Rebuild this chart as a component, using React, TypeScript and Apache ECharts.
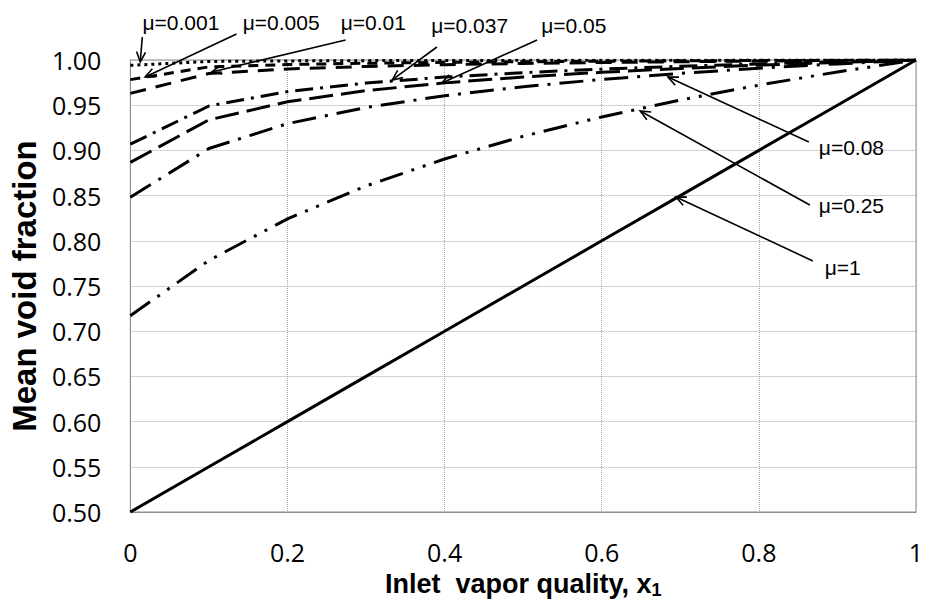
import React, { useEffect, useRef } from "react";
import * as echarts from "echarts";

// Inlet vapor quality x1
const X_QUALITY = [0, 0.1, 0.2, 0.3, 0.4, 0.5, 0.6, 0.7, 0.8, 0.9, 1.0];

// Mean void fraction for each density ratio mu
const MU_0001 = [0.9941, 0.9984, 0.999, 0.9993, 0.9995, 0.9996, 0.9997, 0.9998, 0.9999, 0.9999, 1.0];
const MU_0005 = [0.9783, 0.9924, 0.995, 0.9964, 0.9974, 0.9981, 0.9986, 0.9991, 0.9994, 0.9997, 1.0];
const MU_001 = [0.9631, 0.985, 0.9901, 0.9929, 0.9948, 0.9962, 0.9972, 0.9981, 0.9988, 0.9995, 1.0];
const MU_0037 = [0.9069, 0.9491, 0.965, 0.9745, 0.9811, 0.986, 0.9899, 0.9931, 0.9957, 0.998, 1.0];
const MU_005 = [0.8867, 0.9338, 0.9538, 0.9661, 0.9747, 0.9812, 0.9864, 0.9907, 0.9943, 0.9973, 1.0];
const MU_008 = [0.8482, 0.9021, 0.9296, 0.9475, 0.9605, 0.9705, 0.9785, 0.9852, 0.9909, 0.9957, 1.0];
const MU_025 = [0.7172, 0.7783, 0.8243, 0.8607, 0.8905, 0.9156, 0.937, 0.9557, 0.9722, 0.9868, 1.0];
const MU_1 = [0.5, 0.55, 0.6, 0.65, 0.7, 0.75, 0.8, 0.85, 0.9, 0.95, 1.0];

const SERIES_NAMES = ["μ=0.001", "μ=0.005", "μ=0.01", "μ=0.037", "μ=0.05", "μ=0.08", "μ=0.25", "μ=1"];
const SERIES_VALUES = [MU_0001, MU_0005, MU_001, MU_0037, MU_005, MU_008, MU_025, MU_1];

// Axis settings
const Y_MIN = 0.5;
const Y_MAX = 1.0;
const Y_STEP = 0.05;
const X_MIN = 0;
const X_MAX = 1;
const X_STEP = 0.2;

// Annotation labels (data coordinates)
const LABEL_TEXT = ["μ=0.001", "μ=0.005", "μ=0.01", "μ=0.037", "μ=0.05", "μ=0.08", "μ=0.25", "μ=1"];
const LABEL_POS = [
  [0.0644, 1.042],
  [0.1919, 1.042],
  [0.3093, 1.042],
  [0.4318, 1.0387],
  [0.5644, 1.0387],
  [0.8763, 0.9027],
  [0.8763, 0.8396],
  [0.8838, 0.771],
];
const ARROW_TAIL = [
  [0.0152, 1.0254],
  [0.1351, 1.0288],
  [0.274, 1.0221],
  [0.3902, 1.0144],
  [0.5177, 1.0221],
  [0.8636, 0.9093],
  [0.8649, 0.8396],
  [0.8687, 0.7777],
];
const ARROW_HEAD = [
  [0.0126, 0.9978],
  [0.0189, 0.9812],
  [0.1035, 0.9867],
  [0.3333, 0.9779],
  [0.3965, 0.9746],
  [0.6843, 0.9812],
  [0.649, 0.9436],
  [0.6944, 0.8485],
];

// styles
const DASHES: any[] = [
  [3, 4],
  [10, 7],
  [16, 10],
  [18, 7, 3, 7],
  [24, 8],
  [24, 9, 3, 9],
  [24, 9, 3, 9, 3, 9],
  "solid",
];
const LABEL_ALIGN = ["center", "center", "center", "center", "center", "left", "left", "left"];

export default function App() {
  const ref = useRef<HTMLDivElement>(null);

  useEffect(() => {
    if (!ref.current) return;
    const chart = echarts.init(ref.current, null, { renderer: "svg" });

    const series = SERIES_NAMES.map((name, i) => ({
      name,
      type: "line",
      data: X_QUALITY.map((x, j) => [x, SERIES_VALUES[i][j]]),
      showSymbol: false,
      symbol: "none",
      smooth: false,
      lineStyle: { color: "#000", width: 3, type: DASHES[i], cap: "butt" },
      z: 2 + i,
    }));

    const tickFont = { fontFamily: '"Open Sans", sans-serif', fontSize: 25, color: "#000" };

    chart.setOption({
      animation: false,
      backgroundColor: "#fff",
      grid: {
        left: 123,
        right: 11,
        top: 60,
        bottom: 96,
        show: true,
        borderColor: "#8c8c8c",
        borderWidth: 1,
        backgroundColor: "transparent",
      },
      xAxis: {
        type: "value",
        min: X_MIN,
        max: X_MAX,
        interval: X_STEP,
        axisLine: { show: true, lineStyle: { color: "#8c8c8c", width: 1 } },
        axisTick: { show: false },
        axisLabel: { ...tickFont, margin: 27 },
        splitLine: { show: true, lineStyle: { color: "#a6a6a6", type: "dotted", width: 1 } },
        name: "Inlet  vapor quality, x{sub|1}",
        nameLocation: "middle",
        nameGap: 56,
        nameTextStyle: {
          fontFamily: '"Liberation Sans", Arial, sans-serif',
          fontWeight: "bold",
          fontSize: 27,
          color: "#000",
          lineHeight: 30,
          rich: {
            sub: {
              fontFamily: '"Liberation Sans", Arial, sans-serif',
              fontWeight: "bold",
              fontSize: 18,
              lineHeight: 6,
              verticalAlign: "bottom",
              color: "#000",
            },
          },
        },
      },
      yAxis: {
        type: "value",
        min: Y_MIN,
        max: Y_MAX,
        interval: Y_STEP,
        axisLine: { show: true, lineStyle: { color: "#8c8c8c", width: 1 } },
        axisTick: { show: false },
        axisLabel: {
          ...tickFont,
          margin: 29,
          formatter: (v: number) => v.toFixed(2),
        },
        splitLine: { show: true, lineStyle: { color: "#a6a6a6", type: "dotted", width: 1 } },
        name: "Mean void fraction",
        nameLocation: "middle",
        nameGap: 80,
        nameTextStyle: {
          fontFamily: '"Liberation Sans", Arial, sans-serif',
          fontWeight: "bold",
          fontSize: 33,
          color: "#000",
        },
      },
      series,
    });

    const toPx = (p: number[]) => chart.convertToPixel({ gridIndex: 0 }, p) as number[];
    const graphics: any[] = [];
    const L = 11;
    const ang = (24 * Math.PI) / 180;
    LABEL_TEXT.forEach((text, i) => {
      const lp = toPx(LABEL_POS[i]);
      const t = toPx(ARROW_TAIL[i]);
      const h = toPx(ARROW_HEAD[i]);
      const dx = h[0] - t[0];
      const dy = h[1] - t[1];
      const len = Math.sqrt(dx * dx + dy * dy) || 1;
      const ux = dx / len;
      const uy = dy / len;
      const rot = (a: number) => [ux * Math.cos(a) - uy * Math.sin(a), ux * Math.sin(a) + uy * Math.cos(a)];
      const r1 = rot(ang);
      const r2 = rot(-ang);
      graphics.push({
        type: "line",
        z: 100,
        shape: { x1: t[0], y1: t[1], x2: h[0], y2: h[1] },
        style: { stroke: "#000", lineWidth: 1.6 },
      });
      graphics.push({
        type: "polyline",
        z: 100,
        shape: {
          points: [
            [h[0] - L * r1[0], h[1] - L * r1[1]],
            [h[0], h[1]],
            [h[0] - L * r2[0], h[1] - L * r2[1]],
          ],
        },
        style: { stroke: "#000", fill: null, lineWidth: 1.6 },
      });
      graphics.push({
        type: "text",
        z: 101,
        x: lp[0],
        y: lp[1],
        style: {
          text,
          fill: "#000",
          font: '21px "Liberation Sans", Arial, sans-serif',
          align: LABEL_ALIGN[i],
          verticalAlign: "middle",
        },
      });
    });
    chart.setOption({ graphic: graphics });

    return () => chart.dispose();
  }, []);

  return (
    <div
      ref={ref}
      style={{ position: "fixed", left: 0, top: 0, width: 927, height: 608, background: "#fff" }}
    />
  );
}
